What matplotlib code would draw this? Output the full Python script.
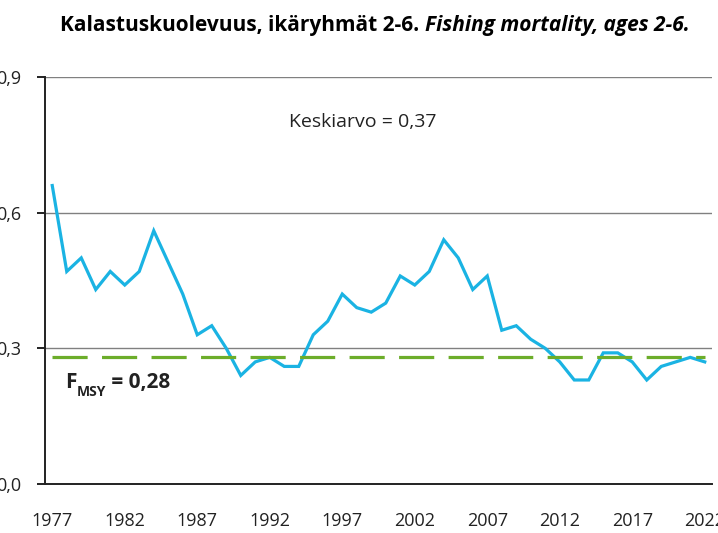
import numpy as np
import matplotlib.pyplot as plt

# Kalastuskuolevuus (F), ikäryhmät 2-6
years = list(range(1977, 2023))
fishing_mortality = [0.66, 0.47, 0.50, 0.43, 0.47, 0.44, 0.47, 0.56, 0.49, 0.42,
                     0.33, 0.35, 0.30, 0.24, 0.27, 0.28, 0.26, 0.26, 0.33, 0.36,
                     0.42, 0.39, 0.38, 0.40, 0.46, 0.44, 0.47, 0.54, 0.50, 0.43,
                     0.46, 0.34, 0.35, 0.32, 0.30, 0.27, 0.23, 0.23, 0.29, 0.29,
                     0.27, 0.23, 0.26, 0.27, 0.28, 0.27]
f_msy = 0.28
mean_f = 0.37

y_ticks = [0.0, 0.3, 0.6, 0.9]
y_tick_labels = ["0,0", "0,3", "0,6", "0,9"]
x_ticks = list(range(1977, 2023, 5))

plt.rcParams['font.family'] = ['Open Sans', 'DejaVu Sans']
title_font = ['Liberation Sans Narrow', 'Open Sans', 'DejaVu Sans']

fig = plt.figure(figsize=(7.18, 5.33), dpi=100)
ax = fig.add_axes([45 / 718, 1 - 484 / 533, (712 - 45) / 718, (484 - 77) / 533])

# viivat
ax.plot(years, fishing_mortality, color='#1ab3e3', lw=2.3, solid_joinstyle='miter', zorder=3)
ax.plot([years[0], years[-1]], [f_msy, f_msy], color='#6cad2a', lw=2.3,
        dashes=(11, 4.5), zorder=4)

ax.set_xlim(1976.5, 2022.5)
ax.set_ylim(0, 0.9)
ax.set_yticks(y_ticks)
ax.set_yticklabels(y_tick_labels)
ax.set_xticks(x_ticks)
ax.set_xticklabels([str(y) for y in x_ticks])

for y in y_ticks[1:]:
    ax.axhline(y, color='#808080', lw=1.0, zorder=1)

for s in ['top', 'right']:
    ax.spines[s].set_visible(False)
ax.spines['left'].set_linewidth(1.4)
ax.spines['bottom'].set_linewidth(1.4)
ax.spines['left'].set_color('#222222')
ax.spines['bottom'].set_color('#222222')

ax.tick_params(axis='y', length=6, width=1.4, pad=11, labelsize=13, colors='#222222')
ax.tick_params(axis='x', length=0, pad=20, labelsize=13, colors='#222222')

# tekstit
ax.text(1998.4, 0.80, "Keskiarvo = " + str(mean_f).replace('.', ','),
        ha='center', va='center', fontsize=14, color='#222222')

t1 = ax.text(1977.9, 0.224, "F", ha='left', va='center', fontsize=15,
             fontweight='bold', color='#222222')
t2 = ax.annotate("MSY", xy=(1, 0.05), xycoords=t1, ha='left', va='center',
                 fontsize=10, fontweight='bold', color='#222222')
ax.annotate(" = " + str(f_msy).replace('.', ','), xy=(1, 0.5), xycoords=(t2, t1),
            ha='left', va='center', fontsize=15, fontweight='bold', color='#222222')

h1 = fig.text(60 / 718, 1 - 25 / 533, "Kalastuskuolevuus, ikäryhmät 2-6. ",
              ha='left', va='center', fontsize=15, fontweight='bold', family=title_font)
ax.annotate("Fishing mortality, ages 2-6.", xy=(1, 0.5), xycoords=h1,
            ha='left', va='center', fontsize=15, fontweight='bold', fontstyle='italic',
            family=title_font, annotation_clip=False)

fig.savefig('out.png', dpi=100)
